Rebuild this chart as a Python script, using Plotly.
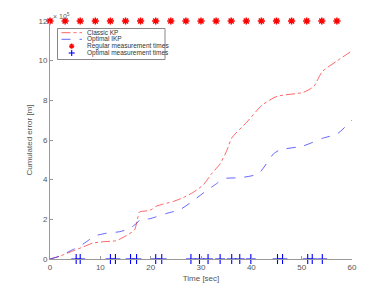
import plotly.graph_objects as go

# Classic KP cumulated error
t_classic = [0, 2, 4.5, 6.5, 8.5, 10.5, 13.1, 15.1, 16.8, 17.5, 17.8, 19.8, 21.2, 24.5, 26.5,
             28.5, 30.5, 32.1, 33.8, 35.1, 36.1, 39.1, 42.1, 45.1, 50.3, 52.4, 54.1, 57.1, 60]
y_classic = [0, 0.15, 0.4, 0.6, 0.8, 0.87, 0.92, 1.17, 1.47, 2.15, 2.37, 2.45, 2.67, 2.9, 3.1,
             3.37, 3.75, 4.3, 4.8, 5.45, 6.1, 6.9, 7.75, 8.2, 8.4, 8.7, 9.45, 10.0, 10.5]

# Optimal IKP cumulated error
t_opt = [0, 1.8, 4.5, 5.8, 7.8, 8.5, 11.2, 13.9, 15.9, 17.2, 17.9, 19.8, 23.2, 25.9, 28.5,
         31.1, 33.1, 34.4, 37.8, 41.4, 44.4, 45.7, 50.3, 54.3, 57, 60]
y_opt = [0, 0.13, 0.47, 0.63, 0.97, 1.13, 1.3, 1.38, 1.55, 1.8, 1.98, 2.03, 2.3, 2.5, 2.95,
         3.45, 3.8, 4.05, 4.1, 4.3, 5.3, 5.5, 5.7, 6.1, 6.3, 7.0]

# Measurement times
regular_times = [0, 3, 6, 9, 12, 15, 18, 21, 24, 27, 30, 33, 36, 39, 42, 45, 48, 51, 54, 57]
regular_level = 12
optimal_times = [5.2, 6.0, 12.0, 13.0, 16.0, 17.2, 21.0, 22.2, 28.0, 29.7, 31.4, 33.8,
                 36.1, 37.7, 39.9, 45.2, 46.2, 51.2, 52.1, 54.1]
optimal_level = 0

x_ticks = [0, 10, 20, 30, 40, 50, 60]
y_ticks = [0, 2, 4, 6, 8, 10, 12]

W, H = 389, 292
L, R, T, B = 50, 37, 21, 33
PW, PH = W - L - R, H - T - B


def px(x):
    return (x - L) / PW


def py(y):
    return (H - B - y) / PH


RED = "rgba(255,40,40,0.8)"
BLUE = "rgba(40,40,255,0.8)"
FONT = "Liberation Sans, Arial"

fig = go.Figure()
fig.add_trace(go.Scatter(x=t_classic, y=y_classic, mode="lines", name="Classic KP",
                         line=dict(color=RED, width=0.9, dash="dashdot",
                                   shape="spline", smoothing=0.6)))
fig.add_trace(go.Scatter(x=t_opt, y=y_opt, mode="lines", name="Optimal IKP",
                         line=dict(color=BLUE, width=0.9, dash="dash",
                                   shape="spline", smoothing=0.6)))
fig.add_trace(go.Scatter(x=regular_times, y=[regular_level] * len(regular_times), mode="markers",
                         name="Regular measurement times", cliponaxis=False,
                         marker=dict(symbol="asterisk", size=6, color="red",
                                     line=dict(color="red", width=1.5))))
fig.add_trace(go.Scatter(x=optimal_times, y=[optimal_level] * len(optimal_times), mode="markers",
                         name="Optimal measurement times", cliponaxis=False,
                         marker=dict(symbol="cross-thin", size=7, color="blue",
                                     line=dict(color="blue", width=1.1))))

# manual compact legend (MATLAB style)
shapes = [dict(type="rect", xref="paper", yref="paper", x0=px(57.5), x1=px(165),
               y0=py(59.5), y1=py(28.5), line=dict(color="#888", width=1),
               fillcolor="white", layer="above")]
rows = [32.7, 39.3, 46.2, 53.0]


def seg(x0, y0, x1, y1, color, width, dash="solid"):
    return dict(type="line", xref="paper", yref="paper", x0=px(x0), x1=px(x1), y0=py(y0),
                y1=py(y1), line=dict(color=color, width=width, dash=dash), layer="above")


shapes.append(seg(61.5, rows[0], 82, rows[0], RED, 0.9, "dashdot"))
shapes.append(seg(61.5, rows[1], 82, rows[1], BLUE, 0.9, "dash"))
# asterisk glyph
cx, cy, a = 71.7, rows[2], 2.6
shapes += [seg(cx - a, cy, cx + a, cy, "red", 1.4), seg(cx, cy - a, cx, cy + a, "red", 1.4),
           seg(cx - a * 0.7, cy - a * 0.7, cx + a * 0.7, cy + a * 0.7, "red", 1.4),
           seg(cx - a * 0.7, cy + a * 0.7, cx + a * 0.7, cy - a * 0.7, "red", 1.4)]
# plus glyph
cx, cy, a = 71.7, rows[3], 3
shapes += [seg(cx - a, cy, cx + a, cy, "blue", 1.1), seg(cx, cy - a, cx, cy + a, "blue", 1.1)]

labels = ["Classic KP", "Optimal IKP", "Regular measurement times", "Optimal measurement times"]
annotations = []
for r, lab in zip(rows, labels):
    annotations.append(dict(xref="paper", yref="paper", x=px(84.5), y=py(r), text=lab,
                            showarrow=False, xanchor="left", yanchor="middle",
                            font=dict(family=FONT, size=6.5, color="#333")))
# exponent label
annotations.append(dict(xref="paper", yref="paper", x=px(51), y=py(16), text="× 10<sup>5</sup>",
                        showarrow=False, xanchor="left", yanchor="middle",
                        font=dict(family=FONT, size=7, color="#666")))

axis_common = dict(showline=True, linecolor="#999", linewidth=1, ticks="inside", ticklen=3,
                   tickcolor="#999", showgrid=False, zeroline=False,
                   tickfont=dict(family=FONT, size=8, color="#555"))

fig.update_layout(
    width=W, height=H, margin=dict(l=L, r=R, t=T, b=B),
    paper_bgcolor="white", plot_bgcolor="white", showlegend=False,
    shapes=shapes, annotations=annotations,
    xaxis=dict(range=[0, 60], tickvals=x_ticks, ticktext=[str(v) for v in x_ticks],
               title=dict(text="Time [sec]", standoff=4,
                          font=dict(family=FONT, size=8, color="#555")),
               **axis_common),
    yaxis=dict(range=[0, 12], tickvals=y_ticks, ticktext=[str(v) for v in y_ticks],
               title=dict(text="Cumulated error [m]", standoff=4,
                          font=dict(family=FONT, size=8, color="#555")),
               **axis_common),
)

fig.write_html("out.html", config={"displayModeBar": False},
               post_script="document.body.style.margin='0';document.body.style.overflow='hidden';")
